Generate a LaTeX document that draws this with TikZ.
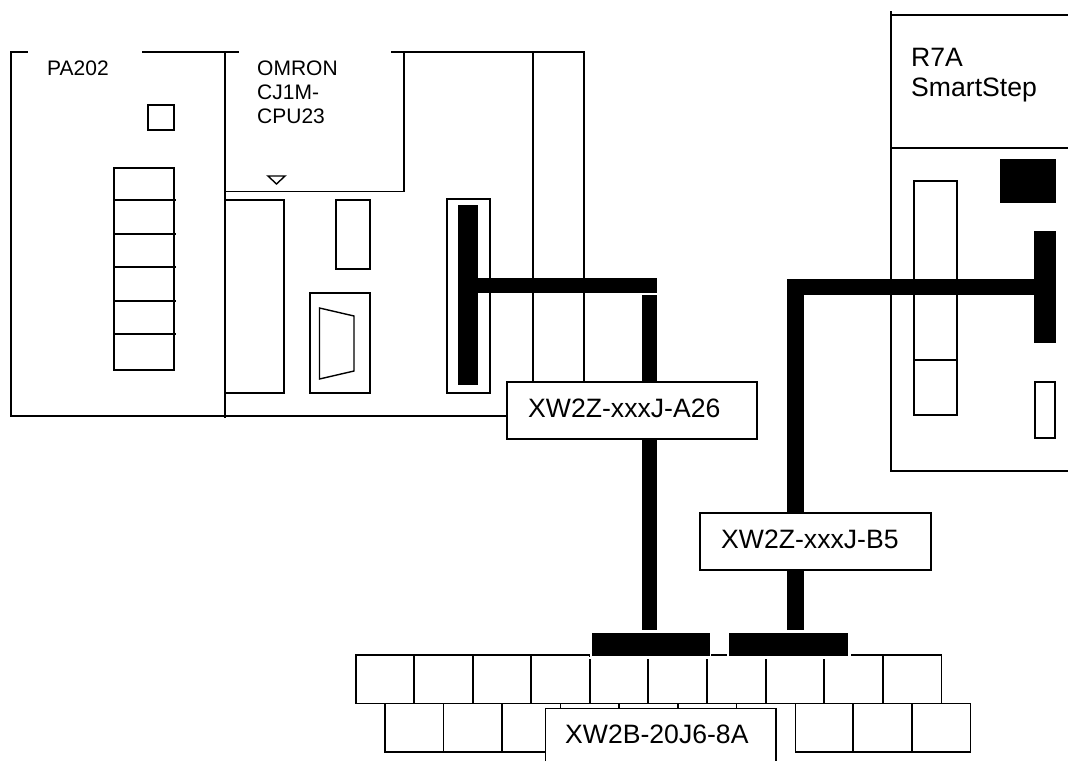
\documentclass[tikz,border=0pt]{standalone}
\usepackage{fontspec}
\setmainfont{Liberation Sans}
\tikzset{
  line/.style={draw=black,line width=1.4pt,line cap=rect},
  thin line/.style={draw=black,line width=1.1pt},
  halo block/.style={fill=black,draw=white,line width=1.5pt},
  small label/.style={anchor=base west,inner sep=0pt,font=\fontsize{21}{25}\selectfont},
  big label/.style={anchor=base west,inner sep=0pt,font=\fontsize{26.6}{31}\selectfont},
  tag/.style={draw=black,fill=white,line width=1.4pt}
}
\begin{document}
\begin{tikzpicture}[x=1pt,y=-1pt]
\useasboundingbox (0,0) rectangle (1068,761);
% power unit and CPU
\draw[line] (27,52) -- (11,52) -- (11,416) -- (507,416);
\draw[line] (143,52) -- (238,52);
\draw[line] (392,52) -- (584,52);
\draw[line] (225,52) -- (225,417);
\draw[line] (404,52) -- (404,191.5) -- (225,191.5);
\draw[thin line] (533,52) -- (533,382);
\draw[thin line] (584,52) -- (584,382);
\draw[line] (148,105) rectangle (174,130);
\draw[line] (114,168) rectangle (174,370);
\foreach \yy in {200,234,267,301,334} \draw[line] (114,\yy) -- (175,\yy);
\draw[line,line cap=butt,line join=miter] (268,176) -- (285,176) -- (276.5,184) -- cycle;
\draw[line] (225,200) rectangle (284,393);
\draw[line] (336,200) rectangle (370,269);
\draw[line] (310,293) rectangle (370,393);
\draw[line,line join=miter] (319.5,308) -- (354,316) -- (354,371) -- (319.5,379) -- cycle;
\draw[line] (447,199) rectangle (490,393);
\node[small label] (pa) at (47,75) {PA202};
\node[small label] (om1) at (257,75) {OMRON};
\node[small label] (om2) at (257,99) {CJ1M-};
\node[small label] (om3) at (257,123) {CPU23};
% servo
\draw[line] (891,12) -- (891,471) -- (1068,471);
\draw[line] (891,15) -- (1068,15);
\draw[line] (891,148) -- (1068,148);
\draw[line] (914,181) rectangle (957,415);
\draw[line] (914,360) -- (957,360);
\draw[line] (1035,382) rectangle (1055,438);
\fill[black] (1000,159) rectangle (1056,203);
\node[big label] (r1) at (911,66) {R7A};
\node[big label] (r2) at (911,96) {SmartStep};
% terminal block
\draw[line] (356,655) rectangle (941.5,703.5);
\foreach \xx in {414,473,531,590,648,707,766,824,883} \draw[line] (\xx,655) -- (\xx,703.5);
\draw[line] (385,703.5) -- (385,752) -- (545,752);
\foreach \xx in {443.5,502} \draw[line] (\xx,703.5) -- (\xx,752);
\foreach \xx in {560.5,619,678,736.5} \draw[line] (\xx,703.5) -- (\xx,708);
\draw[line] (795.5,703.5) -- (795.5,752) -- (970.5,752) -- (970.5,703.5) -- (941.5,703.5);
\foreach \xx in {853,912} \draw[line] (\xx,703.5) -- (\xx,752);
\draw[halo block] (591,632.5) rectangle (710.5,657);
\draw[halo block] (728,632.5) rectangle (848.5,657);
\fill[white] (589,656.5) rectangle (850,659);
\fill[white] (848.5,653) rectangle (850.5,657);
\draw[line,line cap=butt] (712.5,655) -- (726,655);
% cables
\fill[black] (458,205) rectangle (478,385);
\fill[black] (478,278) rectangle (656.5,293);
\fill[black] (642,294.5) rectangle (657,630);
\fill[black] (1034,231) rectangle (1056,343);
\fill[black] (787,279) rectangle (1034,295);
\fill[black] (787,279) rectangle (804,630);
% tags
\node[tag,minimum width=250pt,minimum height=57pt,inner sep=0pt] (a26) at (632,410.5) {};
\node[big label] (a26t) at (528,417) {XW2Z-xxxJ-A26};
\node[tag,minimum width=231pt,minimum height=57pt,inner sep=0pt] (b5) at (815.5,541.5) {};
\node[big label] (b5t) at (721,548) {XW2Z-xxxJ-B5};
\fill[white] (546,709) rectangle (776,761);
\draw[line,line cap=butt] (545.5,761) -- (545.5,708.5) -- (776,708.5) -- (776,761);
\node[big label] (b20) at (565,743) {XW2B-20J6-8A};
\end{tikzpicture}
\end{document}
